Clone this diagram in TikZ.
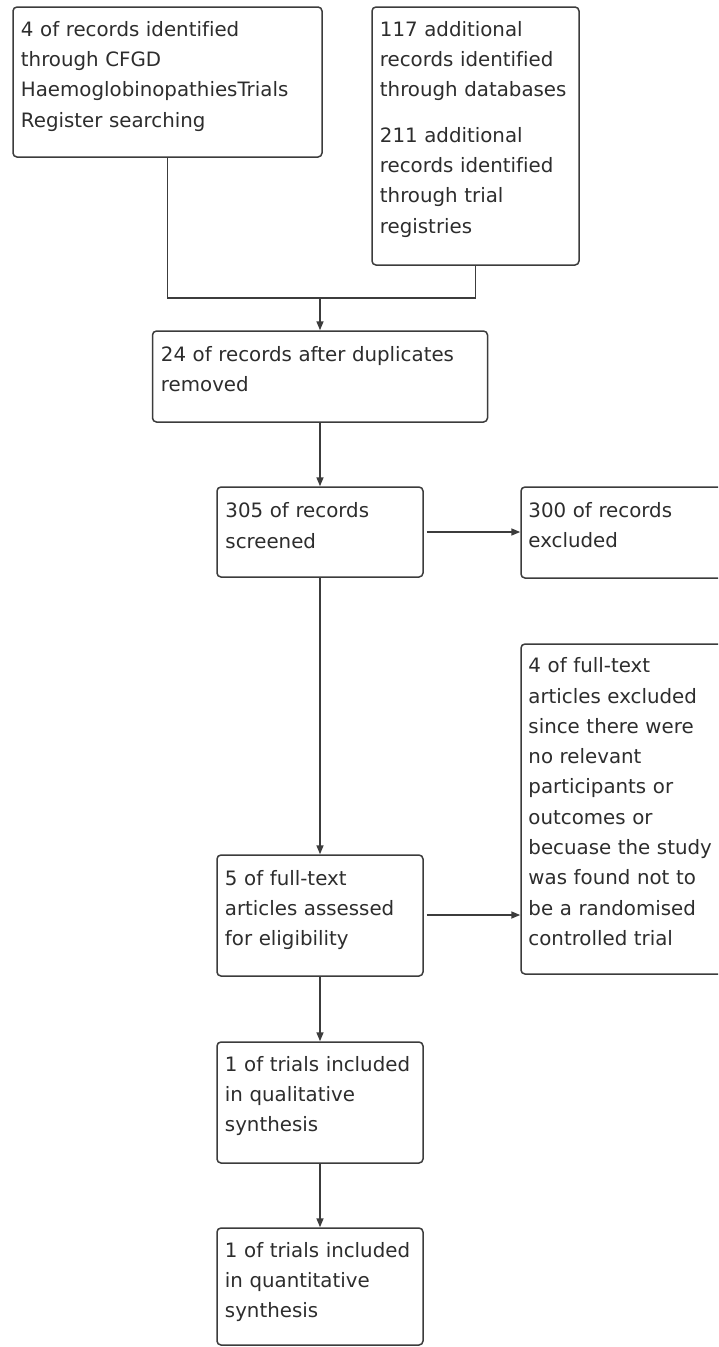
\documentclass[tikz,border=0pt]{standalone}
\usepackage{fontspec}
\setmainfont{DejaVu Sans}[Ligatures=NoCommon]
\usetikzlibrary{arrows.meta,calc}
\definecolor{lncol}{RGB}{60,60,60}
\definecolor{txtcol}{RGB}{45,45,45}
\tikzset{
  flowbox/.style={draw=lncol, line width=1.5pt, rounded corners=4pt, rectangle, inner sep=0pt, fill=white},
  boxtext/.style={anchor=base west, inner sep=0pt, text=txtcol, align=left,
     font=\fontsize{19.8}{30.3}\selectfont},
  conn/.style={draw=lncol, line width=1.6pt},
  arr/.style={conn, -{Triangle[length=9pt,width=7pt]}}
}
\begin{document}
\begin{tikzpicture}[x=1pt,y=-1pt]
\useasboundingbox (0,0) rectangle (718,1347);
\fill[white] (0,0) rectangle (718,1347);
\clip (0,0) rectangle (718,1347);

% boxes
\node[flowbox, minimum width=309pt, minimum height=150pt] (A) at (167.5,82) {};
\node[flowbox, minimum width=207pt, minimum height=258pt] (B) at (475.5,136) {};
\node[flowbox, minimum width=335pt, minimum height=91pt] (C) at (320,376.5) {};
\node[flowbox, minimum width=206pt, minimum height=90pt] (D) at (320,532) {};
\node[flowbox, minimum width=239pt, minimum height=91pt] (E) at (640.5,532.5) {};
\node[flowbox, minimum width=206pt, minimum height=121pt] (F) at (320,915.5) {};
\node[flowbox, minimum width=219pt, minimum height=330pt] (G) at (630.5,809) {};
\node[flowbox, minimum width=206pt, minimum height=121pt] (H) at (320,1102.5) {};
\node[flowbox, minimum width=206pt, minimum height=117pt] (I) at (320,1286.5) {};

% texts
\node[boxtext, text width=300pt] (tA) at ($(A.north west)+(8.5,30)$)
  {4 of records identified\\through CFGD\\HaemoglobinopathiesTrials\\Register searching};
\node[boxtext, text width=200pt] (tB) at ($(B.north west)+(8.5,30)$)
  {117 additional\\records identified\\through databases\\[15pt]211 additional\\records identified\\through trial\\registries};
\node[boxtext, text width=325pt] (tC) at ($(C.north west)+(9,31)$)
  {24 of records after duplicates\\removed};
\node[boxtext, text width=200pt] (tD) at ($(D.north west)+(9,31.5)$)
  {305 of records\\screened};
\node[boxtext, text width=230pt] (tE) at ($(E.north west)+(8,31)$)
  {300 of records\\excluded};
\node[boxtext, text width=200pt] (tF) at ($(F.north west)+(8.5,31)$)
  {5 of full-text\\articles assessed\\for eligibility};
\node[boxtext, text width=215pt] (tG) at ($(G.north west)+(8,29.5)$)
  {4 of full-text\\articles excluded\\since there were\\no relevant\\participants or\\outcomes or\\becuase the study\\was found not to\\be a randomised\\controlled trial};
\node[boxtext, text width=200pt] (tH) at ($(H.north west)+(8.5,30)$)
  {1 of trials included\\in qualitative\\synthesis};
\node[boxtext, text width=200pt] (tI) at ($(I.north west)+(8.5,30)$)
  {1 of trials included\\in quantitative\\synthesis};

% connectors
\coordinate (J) at (320,298);
\draw[conn] (A.south) |- (J) -| (B.south);
\draw[arr] (J) -- (C.north);
\draw[arr] (C.south) -- (D.north);
\draw[arr] ([xshift=3pt]D.east) -- (D.east -| E.west);
\draw[arr] (D.south) -- (F.north);
\draw[arr] ([xshift=3pt,yshift=0.5pt]F.east) -- ([yshift=0.5pt]F.east -| G.west);
\draw[arr] (F.south) -- (H.north);
\draw[arr] (H.south) -- (I.north);
\end{tikzpicture}
\end{document}
